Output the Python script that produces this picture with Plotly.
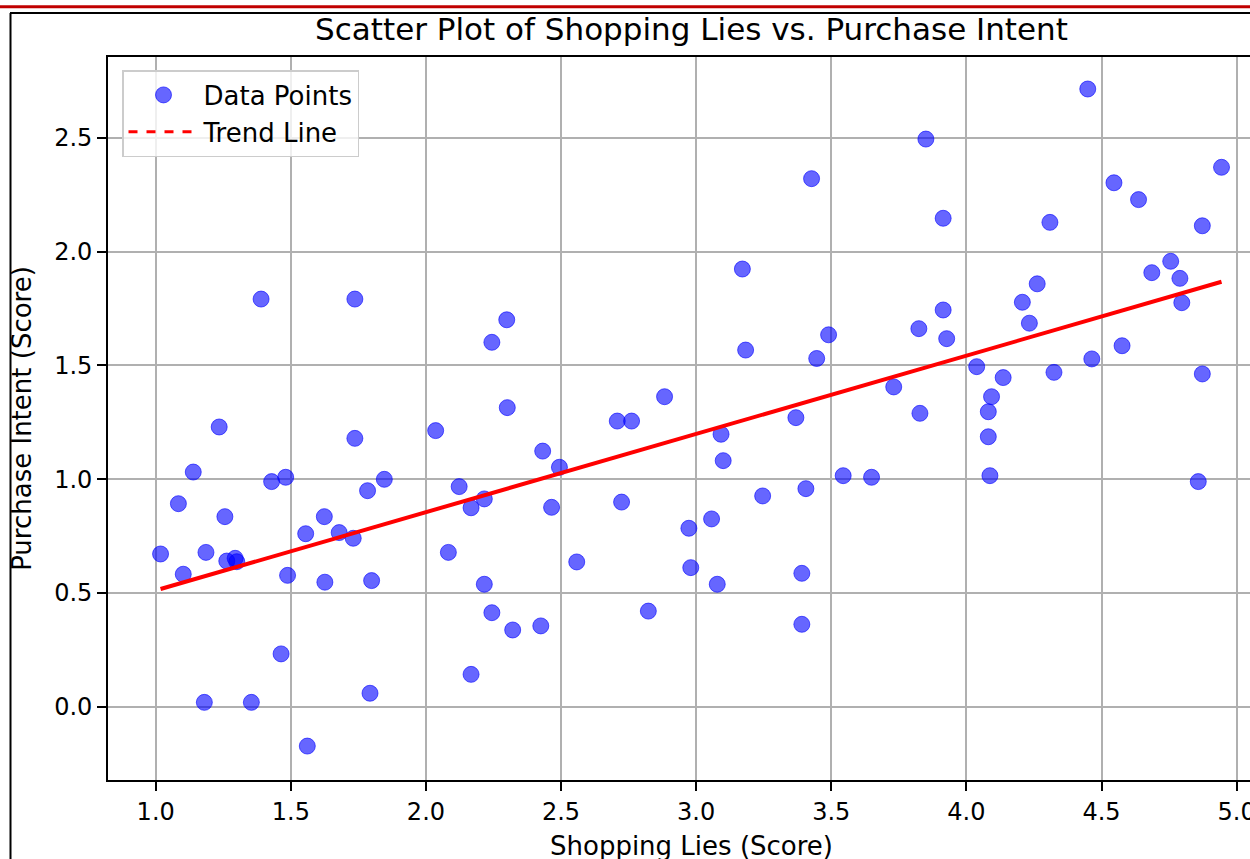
import plotly.graph_objects as go

# ---- data ----
shopping_lies = [
    1.018, 1.084, 1.102, 1.139, 1.180, 1.186, 1.235, 1.256, 1.263, 1.294,
    1.300, 1.354, 1.390, 1.429, 1.464, 1.481, 1.488, 1.555, 1.561, 1.624,
    1.626, 1.679, 1.731, 1.737, 1.737, 1.784, 1.793, 1.799, 1.846, 2.036,
    2.083, 2.123, 2.167, 2.167, 2.216, 2.216, 2.244, 2.244, 2.299, 2.301,
    2.321, 2.425, 2.432, 2.465, 2.494, 2.558, 2.708, 2.724, 2.761, 2.823,
    2.883, 2.973, 2.980, 3.057, 3.078, 3.092, 3.100, 3.171, 3.183, 3.246,
    3.369, 3.391, 3.391, 3.406, 3.427, 3.446, 3.490, 3.544, 3.649, 3.731,
    3.824, 3.828, 3.850, 3.914, 3.914, 3.927, 4.038, 4.081, 4.081, 4.087,
    4.093, 4.136, 4.207, 4.233, 4.262, 4.309, 4.324, 4.449, 4.464, 4.546,
    4.576, 4.637, 4.686, 4.756, 4.790, 4.797, 4.858, 4.873, 4.873, 4.944,
]
purchase_intent = [
    0.671, 0.892, 0.582, 1.031, 0.019, 0.678, 1.229, 0.835, 0.640, 0.652,
    0.637, 0.019, 1.791, 0.989, 0.232, 1.008, 0.577, 0.760, -0.173, 0.835,
    0.547, 0.765, 0.740, 1.179, 1.791, 0.949, 0.059, 0.554, 0.999, 1.213,
    0.678, 0.967, 0.874, 0.142, 0.913, 0.538, 0.413, 1.601, 1.700, 1.314,
    0.337, 0.355, 1.123, 0.876, 1.052, 0.636, 1.255, 0.899, 1.255, 0.420,
    1.362, 0.784, 0.611, 0.825, 0.538, 1.197, 1.081, 1.923, 1.567, 0.926,
    1.270, 0.586, 0.362, 0.958, 2.320, 1.530, 1.634, 1.015, 1.008, 1.405,
    1.661, 1.289, 2.494, 2.146, 1.743, 1.617, 1.494, 1.296, 1.186, 1.015,
    1.362, 1.446, 1.777, 1.685, 1.858, 2.128, 1.469, 2.714, 1.528, 2.302,
    1.586, 2.228, 1.907, 1.957, 1.882, 1.775, 0.989, 2.113, 1.462, 2.370,
]
trend_x = [1.018, 4.944]
trend_y = [0.517, 1.867]
x_ticks = [1.0, 1.5, 2.0, 2.5, 3.0, 3.5, 4.0, 4.5, 5.0]
y_ticks = [0.0, 0.5, 1.0, 1.5, 2.0, 2.5]

# ---- layout geometry (pixels) ----
W, H = 1250, 859
PL, PT, PB = 108, 57, 780          # plot area left, top, bottom
PW, PH = W - PL, PB - PT


def px_x(p):
    return (p - PL) / PW


def px_y(p):
    return (PB - p) / PH


FONT = "DejaVu Sans, Verdana, sans-serif"

fig = go.Figure()
fig.add_trace(go.Scatter(
    x=shopping_lies, y=purchase_intent, mode="markers", name="Data Points",
    marker=dict(size=16, color="rgba(0,0,255,0.6)",
                line=dict(color="rgba(0,0,255,0.6)", width=1)),
))
fig.add_trace(go.Scatter(
    x=trend_x, y=trend_y, mode="lines", name="Trend Line", showlegend=False,
    line=dict(color="red", width=4), legendgroup="trend",
))
fig.add_trace(go.Scatter(
    x=[None], y=[None], mode="lines", name="Trend Line", legendgroup="trend",
    line=dict(color="red", width=3, dash="dash"),
))

grid = "#b0b0b0"
fig.update_xaxes(
    range=[0.8235, 5.0494], tickvals=x_ticks, tickformat=".1f",
    showgrid=True, gridcolor=grid, gridwidth=1.5, zeroline=False,
    showline=True, linecolor="black", linewidth=1.8, mirror=True,
    ticks="outside", ticklen=9, tickwidth=1.5, tickcolor="black",
    ticklabeloverflow="allow",
    tickfont=dict(family=FONT, size=24, color="black"),
)
fig.update_yaxes(
    range=[-0.3221, 2.8546], tickvals=y_ticks, tickformat=".1f",
    showgrid=True, gridcolor=grid, gridwidth=1.5, zeroline=False,
    showline=True, linecolor="black", linewidth=1.8, mirror=False,
    ticks="outside", ticklen=9, tickwidth=1.5, tickcolor="black",
    tickfont=dict(family=FONT, size=24, color="black"),
    title=dict(text="Purchase Intent (Score)", standoff=15,
               font=dict(family=FONT, size=26, color="black")),
)

fig.update_layout(
    width=W, height=H,
    margin=dict(l=PL, r=0, t=PT, b=H - PB, autoexpand=False),
    paper_bgcolor="white", plot_bgcolor="white",
    title=dict(text="Scatter Plot of Shopping Lies vs. Purchase Intent",
               x=691.5 / W, xanchor="center", xref="container",
               y=1 - 29 / H, yanchor="middle", yref="container",
               font=dict(family=FONT, size=31, color="black")),
    showlegend=True,
    legend=dict(x=px_x(122), y=px_y(70), xanchor="left", yanchor="top",
                bgcolor="rgba(255,255,255,0.8)", bordercolor="#cccccc",
                borderwidth=1.5, font=dict(family=FONT, size=26, color="black"),
                itemwidth=70, tracegroupgap=0),
    annotations=[dict(
        text="Shopping Lies (Score)", xref="paper", yref="paper",
        x=px_x(691.5), y=px_y(846), xanchor="center", yanchor="middle",
        showarrow=False, font=dict(family=FONT, size=26, color="black"),
    )],
    shapes=[
        dict(type="line", xref="paper", yref="paper",
             x0=px_x(0), x1=px_x(W), y0=px_y(6.8), y1=px_y(6.8),
             line=dict(color="#c00000", width=3)),
        dict(type="line", xref="paper", yref="paper",
             x0=px_x(10), x1=px_x(W), y0=px_y(13), y1=px_y(13),
             line=dict(color="black", width=2)),
        dict(type="line", xref="paper", yref="paper",
             x0=px_x(10.5), x1=px_x(10.5), y0=px_y(13), y1=px_y(H),
             line=dict(color="black", width=2)),
    ],
)

fig.write_html(
    "out.html",
    config={"displayModeBar": False},
    post_script="document.body.style.margin='0px';"
                "document.body.style.overflow='hidden';",
)
